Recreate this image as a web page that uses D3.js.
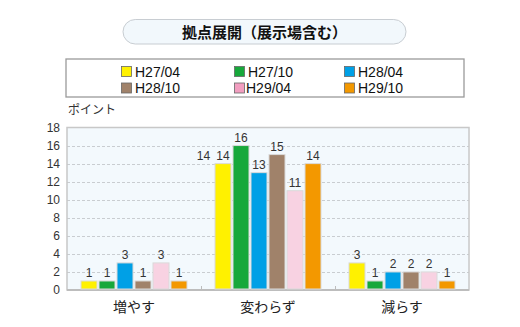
<!DOCTYPE html>
<html><head><meta charset="utf-8">
<script src="https://cdn.jsdelivr.net/npm/d3@7"></script>
<style>
body{margin:0;background:#fff;}
svg{display:block;}
text{font-family:"Liberation Sans",Arial,"Noto Sans CJK JP",sans-serif;}
.jp{font-family:"Noto Sans CJK JP",sans-serif;}
</style></head>
<body>
<svg id="c" width="520" height="327"></svg>
<script>
const title = "拠点展開（展示場含む）";
const categories = ["増やす", "変わらず", "減らす"];
const series = ["H27/04", "H27/10", "H28/04", "H28/10", "H29/04", "H29/10"];
const values = [
  [1, 14, 3],
  [1, 16, 1],
  [3, 13, 2],
  [1, 15, 2],
  [3, 11, 2],
  [1, 14, 1]
];
const barColors = ["#FFF100", "#17A83B", "#00A0E6", "#A0826A", "#F8D2E2", "#F39800"];
const legendColors = ["#FFF100", "#17A83B", "#00A0E6", "#A0826A", "#F29EC0", "#F39800"];
const yTicks = [0, 2, 4, 6, 8, 10, 12, 14, 16, 18];
const yLabel = "ポイント";
const strayLabel = {category: "変わらず", value: 14};

const svg = d3.select("#c");
const L = 67, R = 469, T = 127.5, B = 290;

// title pill
svg.append("rect").attr("x", 123).attr("y", 19.5).attr("width", 283).attr("height", 24.5)
  .attr("rx", 12.25).attr("fill", "#F2F8FC").attr("stroke", "#C8CDD2").attr("stroke-width", 1);
svg.append("text").attr("class", "jp").attr("x", 264.5).attr("y", 37.5).attr("text-anchor", "middle")
  .attr("font-size", 15).attr("font-weight", "bold").attr("fill", "#111").text(title);

// legend
svg.append("rect").attr("x", 66).attr("y", 59).attr("width", 398).attr("height", 38)
  .attr("fill", "#fff").attr("stroke", "#9a9a9a").attr("stroke-width", 1.3);
const legX = [121, 234, 344];
const legY = [66, 82.5];
series.forEach((s, i) => {
  const col = i % 3, row = Math.floor(i / 3);
  const g = svg.append("g").attr("transform", `translate(${legX[col]},${legY[row]})`);
  g.append("rect").attr("x", 0.5).attr("y", 0.5).attr("width", 10).attr("height", 10)
    .attr("fill", legendColors[i]).attr("stroke", "#666").attr("stroke-width", 0.8);
  g.append("text").attr("x", i === 4 ? 12 : 14).attr("y", 10.5).attr("font-size", 14)
    .attr("fill", "#111").text(s);
});

// scales
const x0 = d3.scaleBand().domain(categories).range([L, R]);
const x1 = d3.scaleBand().domain(series).range([14, 120]).paddingInner(1 / 9).paddingOuter(0);
const y = d3.scaleLinear().domain([0, 18]).range([B, T]);

// plot background
svg.append("rect").attr("x", L).attr("y", T).attr("width", R - L).attr("height", B - T)
  .attr("fill", "#F3F9FD");

// grid
svg.append("g").selectAll("line").data(yTicks.filter(t => t > 0 && t < 18)).join("line")
  .attr("x1", L).attr("x2", R).attr("y1", d => Math.round(y(d)) + 0.5).attr("y2", d => Math.round(y(d)) + 0.5)
  .attr("stroke", "#C9CDD1").attr("stroke-dasharray", "3,2").attr("stroke-width", 1);

// frame
svg.append("rect").attr("x", L).attr("y", T).attr("width", R - L).attr("height", B - T)
  .attr("fill", "none").attr("stroke", "#C8C8C8").attr("stroke-width", 1.5);
svg.append("line").attr("x1", L).attr("x2", R).attr("y1", B).attr("y2", B)
  .attr("stroke", "#BDBDBD").attr("stroke-width", 2);

// category boundary ticks
svg.append("g").selectAll("line").data(categories.slice(1)).join("line")
  .attr("x1", d => x0(d) + 0.5).attr("x2", d => x0(d) + 0.5).attr("y1", B - 4).attr("y2", B)
  .attr("stroke", "#BDBDBD");

// y axis labels
const yAxis = d3.axisLeft(y).tickValues(yTicks).tickSize(0).tickPadding(7);
const ya = svg.append("g").attr("transform", `translate(${L},0)`).call(yAxis);
ya.select(".domain").remove();
ya.selectAll("text").attr("font-size", 12).attr("fill", "#333")
  .attr("font-family", "'Noto Sans','DejaVu Sans',sans-serif");

svg.append("text").attr("class", "jp").attr("x", 68).attr("y", 114).attr("font-size", 12)
  .attr("fill", "#333").text(yLabel);

// x axis labels
const xAxis = d3.axisBottom(x0).tickSize(0).tickPadding(12);
const xa = svg.append("g").attr("transform", `translate(0,${B})`).call(xAxis);
xa.select(".domain").remove();
xa.selectAll("text").attr("font-size", 14).attr("fill", "#222")
  .attr("font-family", "'Noto Sans CJK JP',sans-serif");

// bars
const bars = [];
series.forEach((s, i) => categories.forEach((c, j) => bars.push({s, i, c, v: values[i][j]})));
svg.append("g").selectAll("rect").data(bars).join("rect")
  .attr("x", d => x0(d.c) + x1(d.s))
  .attr("y", d => y(d.v))
  .attr("width", x1.bandwidth())
  .attr("height", d => B - 1 - y(d.v))
  .attr("fill", d => barColors[d.i])
  .attr("stroke", "#DADADA").attr("stroke-width", 1);

svg.append("g").selectAll("text").data(bars).join("text")
  .attr("x", d => x0(d.c) + x1(d.s) + x1.bandwidth() / 2)
  .attr("y", d => y(d.v) - 4)
  .attr("text-anchor", "middle").attr("font-size", 12).attr("fill", "#333")
  .attr("font-family", "'Noto Sans','DejaVu Sans',sans-serif")
  .text(d => d.v);

// stray label in the reference
svg.append("text").attr("x", x0(strayLabel.category) + 2.5).attr("y", y(strayLabel.value) - 4)
  .attr("text-anchor", "middle").attr("font-size", 12).attr("fill", "#333")
  .attr("font-family", "'Noto Sans','DejaVu Sans',sans-serif").text(strayLabel.value);
</script>
</body></html>
